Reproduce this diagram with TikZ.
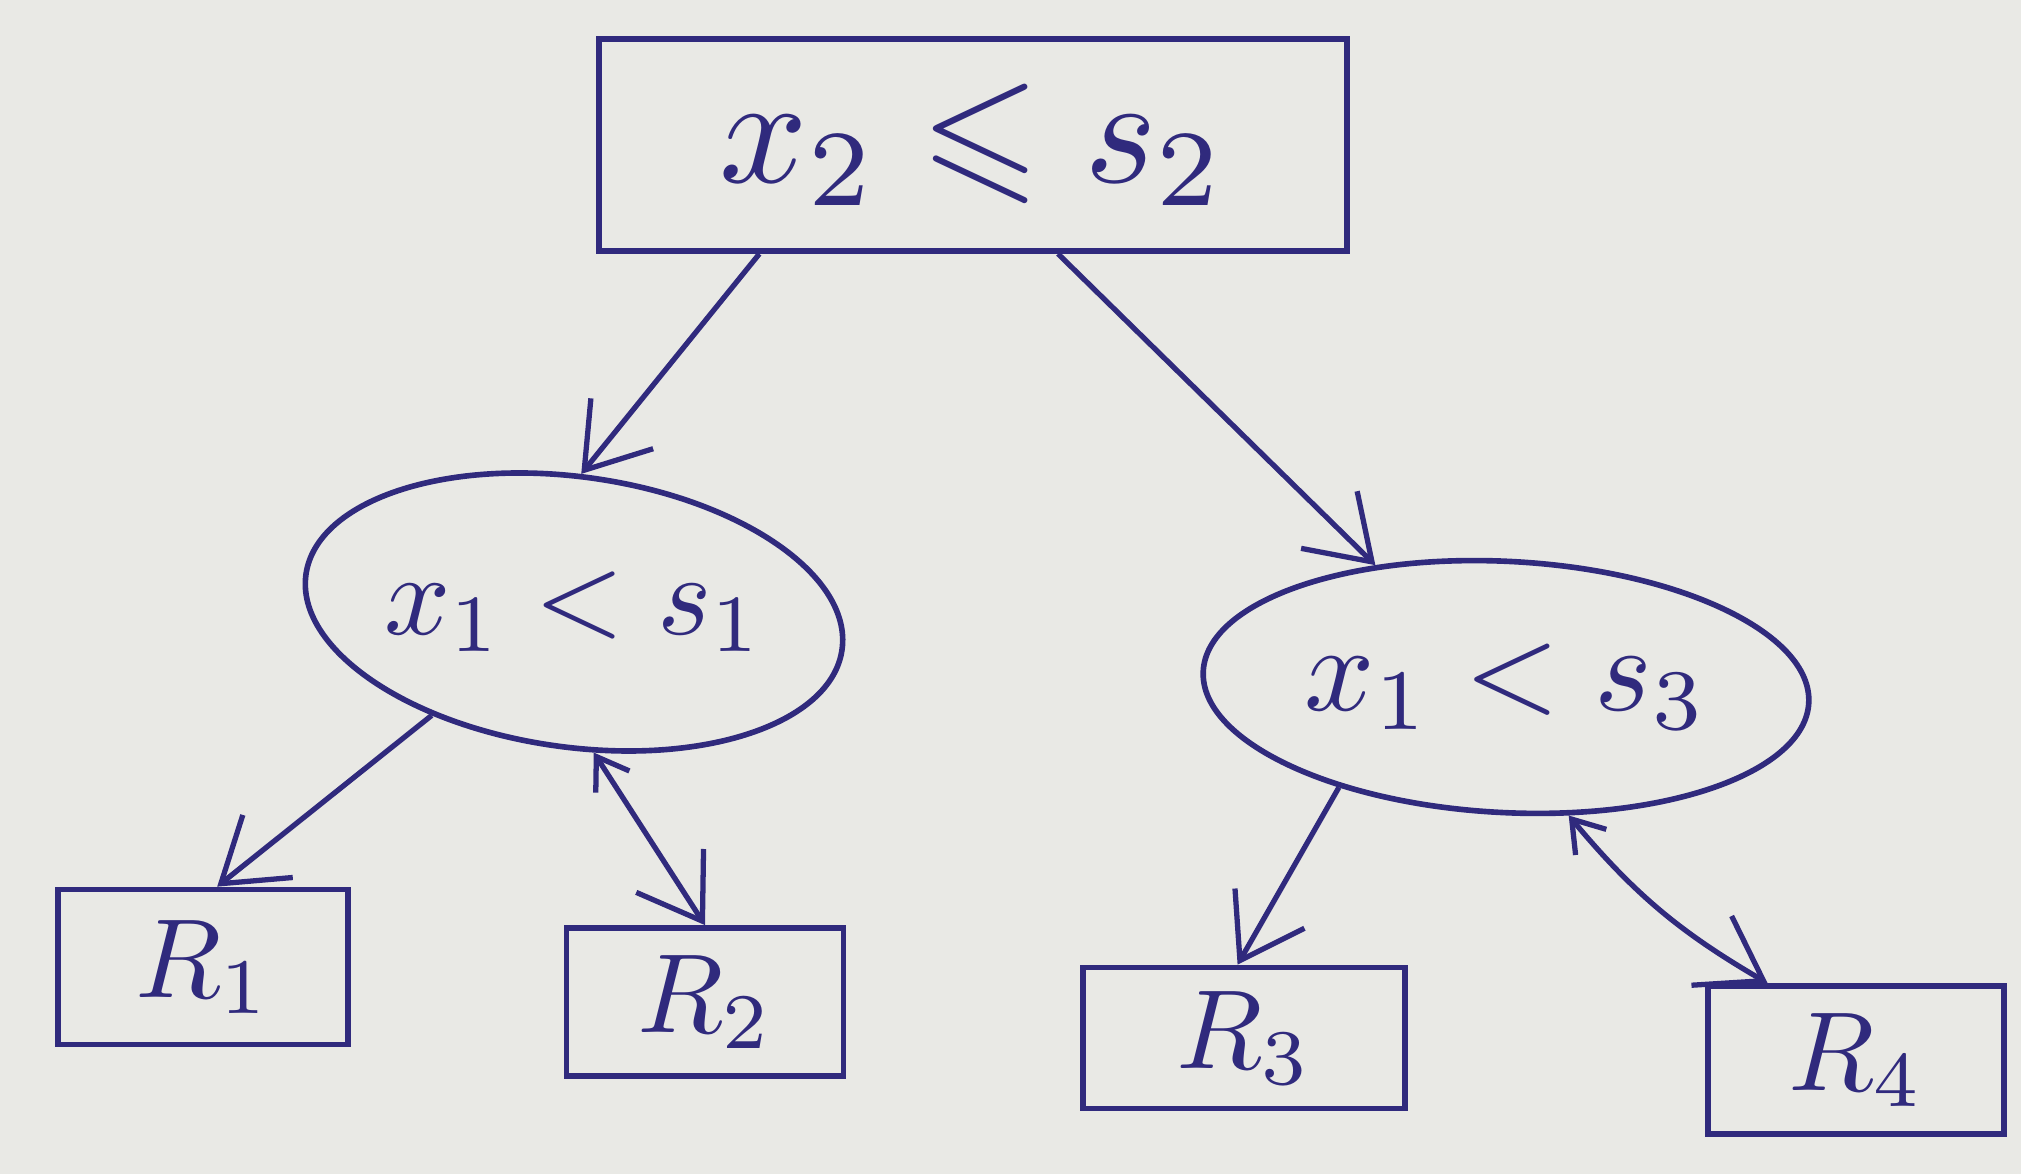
\documentclass[tikz,border=0pt]{standalone}
\usepackage{graphicx}
\usepackage{amssymb}
\usetikzlibrary{arrows.meta,shapes.geometric}
\definecolor{ink}{RGB}{48,42,125}
\definecolor{paper}{RGB}{233,233,229}
\tikzset{
  ink/.style={draw=ink,text=ink,line width=1.6pt},
  boxnode/.style={ink,rectangle,inner sep=0pt},
  ovalnode/.style={ink,ellipse,inner sep=0pt},
  lbl/.style={text=ink,inner sep=0pt},
  conn/.style={draw=ink,line width=1.5pt,-{Straight Barb[length=6mm,width=8mm,line width=1.5pt]}},
  dconn/.style={draw=ink,line width=1.5pt,{Straight Barb[length=3mm,width=4mm,line width=1.5pt]}-{Straight Barb[length=6mm,width=8mm,line width=1.5pt]}}
}
\begin{document}
\begin{tikzpicture}[x=0.01cm,y=-0.01cm]
\fill[paper] (0,0) rectangle (2021,1174);
\useasboundingbox (0,0) rectangle (2021,1174);
\node[boxnode,minimum width=7.48cm,minimum height=2.12cm] (top) at (973,145) {\scalebox{4.4}{$x_2 \leqslant s_2$}};
\node[ovalnode,minimum width=5.41cm,minimum height=2.70cm,rotate=-8] (left) at (574,612) {};
\node[lbl] (lefttxt) at (574,612) {\scalebox{3.3}{$x_1 < s_1$}};
\node[ovalnode,minimum width=6.06cm,minimum height=2.51cm,rotate=-3] (right) at (1506,687) {};
\node[lbl] (righttxt) at (1506,687) {\scalebox{3.5}{$x_1 < s_3$}};
\node[boxnode,minimum width=2.90cm,minimum height=1.55cm] (r1) at (203,967) {\scalebox{3.2}{$R_1$}};
\node[boxnode,minimum width=2.77cm,minimum height=1.48cm] (r2) at (705,1002) {\scalebox{3.2}{$R_2$}};
\node[boxnode,minimum width=3.22cm,minimum height=1.41cm] (r3) at (1244,1038) {\scalebox{3.2}{$R_3$}};
\node[boxnode,minimum width=2.96cm,minimum height=1.48cm] (r4) at (1856,1060) {\scalebox{3.2}{$R_4$}};
\draw[conn] (top.207) -- (left.95);
\draw[conn] (top.308) -- (right.140);
\draw[conn] (left.224) -- (r1.80);
\draw[dconn] (left.286) -- (r2.north);
\draw[conn] (right.214) -- (r3.95);
\draw[dconn] (right.299) to[bend right=10] (r4.139);
\end{tikzpicture}
\end{document}
